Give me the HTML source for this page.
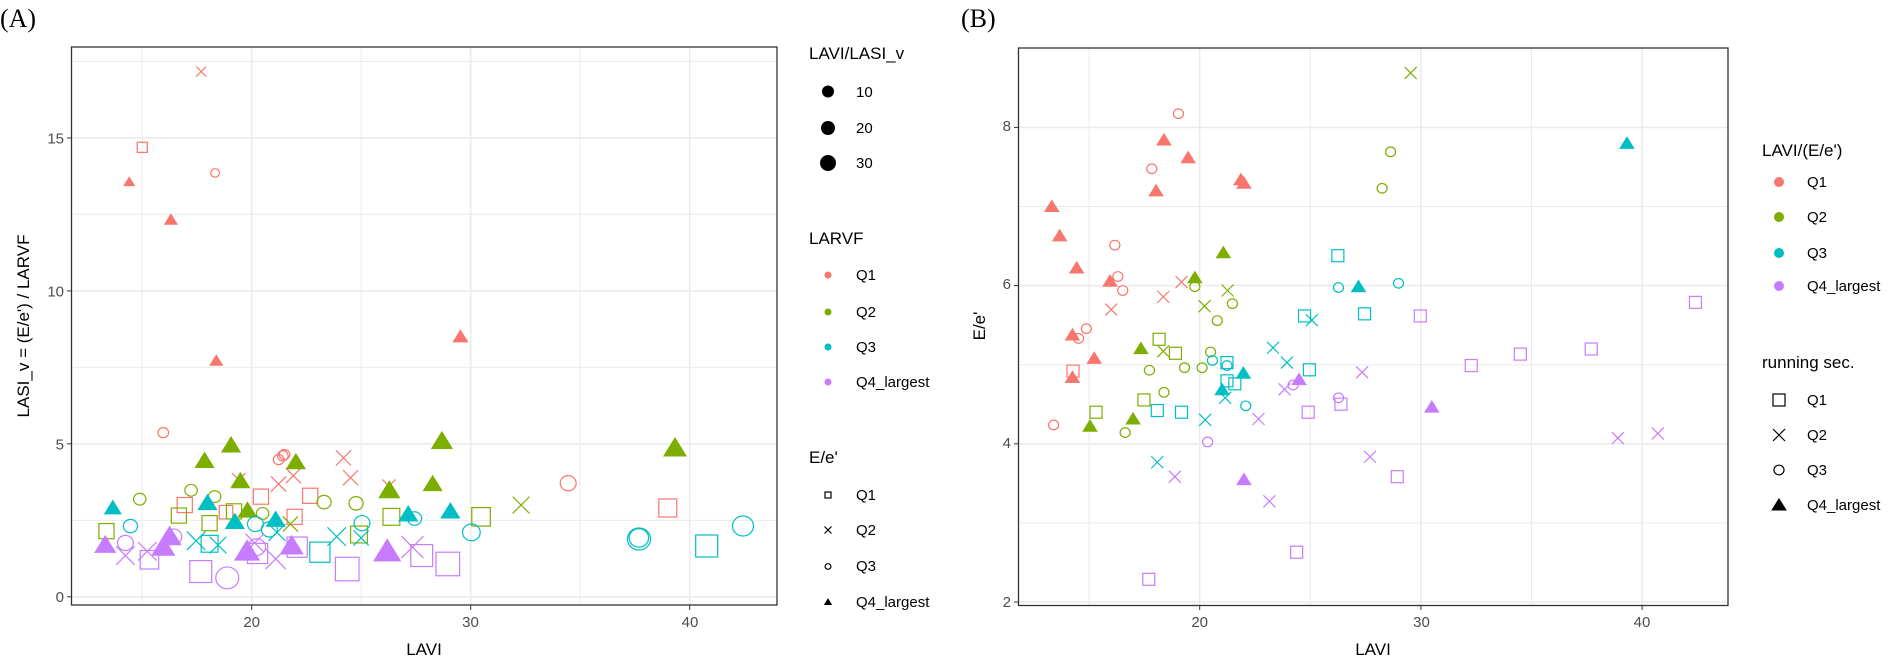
<!DOCTYPE html>
<html><head><meta charset="utf-8"><style>
html,body{margin:0;padding:0;background:#fff;}
svg{display:block;font-family:"Liberation Sans",sans-serif;}
</style></head><body>
<svg id="s" width="1900" height="665" viewBox="0 0 1900 665" xmlns="http://www.w3.org/2000/svg">
<rect width="1900" height="665" fill="#fff"/>
<text x="0" y="27" font-family="Liberation Serif,serif" font-size="26">(A)</text>
<text x="961" y="27" font-family="Liberation Serif,serif" font-size="26">(B)</text>
<g id="gridA" stroke="#ebebeb" fill="none"></g>
<g id="gridB" stroke="#ebebeb" fill="none"></g>
<g id="pts"></g>
<rect x="71.5" y="47" width="705.5" height="558" fill="none" stroke="#333" stroke-width="1.3"/>
<rect x="1018.5" y="48" width="709.5" height="557.5" fill="none" stroke="#333" stroke-width="1.3"/>
<g font-size="15" fill="#4d4d4d" text-anchor="end">
<text x="64" y="602">0</text><text x="64" y="449.5">5</text><text x="64" y="296.5">10</text><text x="64" y="143.5">15</text>
<text x="1011" y="607">2</text><text x="1011" y="448">4</text><text x="1011" y="289">6</text><text x="1011" y="131">8</text>
</g>
<g font-size="15" fill="#4d4d4d" text-anchor="middle">
<text x="251.7" y="627">20</text><text x="470.5" y="627">30</text><text x="690" y="627">40</text>
<text x="1199.7" y="627">20</text><text x="1421.5" y="627">30</text><text x="1642" y="627">40</text>
</g>
<g font-size="17" fill="#000" text-anchor="middle">
<text x="424" y="655">LAVI</text>
<text x="1373" y="655">LAVI</text>
<text transform="translate(29,326) rotate(-90)">LASI_v = (E/e') / LARVF</text>
<text transform="translate(985,326) rotate(-90)">E/e'</text>
</g>
<g font-size="17" fill="#000">
<text x="809" y="59">LAVI/LASI_v</text>
<text x="809" y="244">LARVF</text>
<text x="809" y="463">E/e'</text>
<text x="1762" y="156">LAVI/(E/e')</text>
<text x="1762" y="368">running sec.</text>
</g>
<g font-size="15" fill="#000">
<text x="856" y="97">10</text><text x="856" y="133">20</text><text x="856" y="168">30</text>
<text x="856" y="280">Q1</text><text x="856" y="317">Q2</text><text x="856" y="352">Q3</text><text x="856" y="387">Q4_largest</text>
<text x="856" y="500">Q1</text><text x="856" y="535">Q2</text><text x="856" y="571">Q3</text><text x="856" y="607">Q4_largest</text>
<text x="1807" y="187">Q1</text><text x="1807" y="222">Q2</text><text x="1807" y="258">Q3</text><text x="1807" y="291">Q4_largest</text>
<text x="1807" y="405">Q1</text><text x="1807" y="440">Q2</text><text x="1807" y="475">Q3</text><text x="1807" y="510">Q4_largest</text>
</g>
<g id="leg"></g>
</svg>
<script>
var NS="http://www.w3.org/2000/svg";
function el(p,t,a){var e=document.createElementNS(NS,t);for(var k in a)e.setAttribute(k,a[k]);p.appendChild(e);return e;}
var gA=document.getElementById('gridA'),gB=document.getElementById('gridB');
function yA(v){return 596.8-30.59*v;} function xA(v){return 251.7+(v-20)*21.9;}
function yB(v){return 602-79.1*(v-2);} function xB(v){return 1199.7+(v-20)*22.12;}
[2.5,7.5,12.5,17.5].forEach(function(v){el(gA,'line',{x1:71.5,x2:777,y1:yA(v),y2:yA(v),'stroke-width':1});});
[15,25,35].forEach(function(v){el(gA,'line',{y1:47,y2:605,x1:xA(v),x2:xA(v),'stroke-width':1});});
[0,5,10,15].forEach(function(v){el(gA,'line',{x1:71.5,x2:777,y1:yA(v),y2:yA(v),'stroke-width':1.6});el(gA,'line',{x1:67,x2:71.5,y1:yA(v),y2:yA(v),stroke:'#333'});});
[20,30,40].forEach(function(v){el(gA,'line',{y1:47,y2:605,x1:xA(v),x2:xA(v),'stroke-width':1.6});el(gA,'line',{y1:605,y2:610,x1:xA(v),x2:xA(v),stroke:'#333'});});
[3,5,7].forEach(function(v){el(gB,'line',{x1:1018.5,x2:1728,y1:yB(v),y2:yB(v),'stroke-width':1});});
[15,25,35].forEach(function(v){el(gB,'line',{y1:48,y2:605.5,x1:xB(v),x2:xB(v),'stroke-width':1});});
[2,4,6,8].forEach(function(v){el(gB,'line',{x1:1018.5,x2:1728,y1:yB(v),y2:yB(v),'stroke-width':1.6});el(gB,'line',{x1:1014,x2:1018.5,y1:yB(v),y2:yB(v),stroke:'#333'});});
[20,30,40].forEach(function(v){el(gB,'line',{y1:48,y2:605.5,x1:xB(v),x2:xB(v),'stroke-width':1.6});el(gB,'line',{y1:605.5,y2:610,x1:xB(v),x2:xB(v),stroke:'#333'});});
var C={r:'#F8766D',g:'#7CAE00',c:'#00BFC4',p:'#C77CFF',k:'#000'};
var P=document.getElementById('pts');
function mk(g,sh,x,y,s,col){
 if(sh=='s')el(g,'rect',{x:x-s,y:y-s,width:2*s,height:2*s,fill:'none',stroke:col,'stroke-width':1.2});
 else if(sh=='o')el(g,'ellipse',{cx:x,cy:y,rx:s*1.05,ry:s,fill:'none',stroke:col,'stroke-width':1.2});
 else if(sh=='x'){el(g,'path',{d:'M'+(x-s)+' '+(y-s)+'L'+(x+s)+' '+(y+s)+'M'+(x-s)+' '+(y+s)+'L'+(x+s)+' '+(y-s),stroke:col,'stroke-width':1.2,fill:'none'});}
 else if(sh=='t')el(g,'path',{d:'M'+x+' '+(y-s*1.1)+'L'+(x+s*1.2)+' '+(y+s*0.85)+'L'+(x-s*1.2)+' '+(y+s*0.85)+'Z',fill:col});
 else if(sh=='d')el(g,'circle',{cx:x,cy:y,r:s,fill:col});
}
var f=2.376;
var A=[
['r','x',478,170,12],['r','s',338,350,12],['r','t',307,432,12],['r','o',511,411,10],['r','t',406,522,14],['r','t',514,857,14],['r','t',1094,800,16],['r','o',388,1028,12],
['r','o',662,1092,12],['r','o',672,1083,12],['r','o',676,1080,12],['r','x',816,1088,18],['r','x',833,1135,18],['r','x',662,1150,18],['r','x',697,1130,18],['r','x',567,1140,16],['r','x',924,1155,16],
['r','s',439,1200,18],['r','s',620,1180,18],['r','s',737,1178,18],['r','s',700,1228,18],['r','s',537,1217,16],['r','o',1350,1148,18],
['g','t',486,1095,20],['g','t',549,1058,20],['g','t',571,1143,20],['g','t',703,1098,20],['g','t',588,1213,20],['g','t',925,1165,22],['g','t',1050,1048,22],['g','t',1028,1150,20],
['g','o',332,1186,14],['g','o',454,1165,14],['g','o',510,1180,14],['g','o',624,1220,14],['g','o',770,1193,16],['g','o',846,1196,16],
['g','s',253,1262,18],['g','s',425,1225,18],['g','s',498,1243,18],['g','s',556,1215,18],['g','s',930,1228,20],['g','s',1143,1228,22],['g','s',853,1270,20],
['g','x',1238,1200,20],['g','x',690,1245,18],
['c','t',268,1207,18],['c','t',493,1195,20],['c','t',558,1240,20],['c','t',655,1235,20],['c','t',970,1222,20],['c','t',1070,1215,20],
['c','o',310,1250,16],['c','o',607,1245,18],['c','o',640,1258,18],['c','o',860,1243,18],['c','o',985,1232,16],['c','o',1120,1265,20],['c','o',1518,1278,22],
['c','s',498,1292,20],['c','s',760,1312,24],
['c','x',466,1285,22],['c','x',518,1295,20],['c','x',800,1275,22],['c','x',658,1265,20],['c','x',858,1278,18],
['p','t',250,1295,22],['p','t',388,1300,24],['p','t',403,1275,24],['p','t',587,1310,26],['p','t',693,1297,24],['p','t',920,1310,28],
['p','o',298,1290,18],['p','o',413,1275,18],['p','o',540,1373,26],['p','o',610,1300,20],
['p','s',355,1330,22],['p','s',477,1358,26],['p','s',612,1315,24],['p','s',706,1300,24],['p','s',825,1352,28],['p','s',1002,1320,26],['p','s',1064,1340,28],
['p','x',298,1320,22],['p','x',350,1310,22],['p','x',655,1328,24],['p','x',980,1300,26],['p','x',605,1290,22]];
A.forEach(function(d){mk(P,d[1],d[2]/f,d[3]/f,d[4]/f,C[d[0]]);});
[['r','s',667.8,508,9],['g','t',675,448,10],['c','o',743,526,10],['c','o',639,539,11],['c','s',706.7,546,11]].forEach(function(d){mk(P,d[1],d[2],d[3],d[4],C[d[0]]);});
var B=[
['r','t',[[168,487],[181,556],[209,632],[264,663],[353,330],[340,450],[393,372],[480,424],[485,432],[202,790],[238,845],[202,890]]],
['r','o',[[377,268],[333,398],[272,578],[277,652],[285,685],[225,775],[212,798],[171,1002]]],
['r','x',[[266,730],[352,700],[382,665]]],['r','s',[[203,875]]],
['g','x',[[760,172],[420,722],[458,685],[352,828]]],
['g','o',[[727,358],[713,444],[404,676],[466,716],[441,756],[430,830],[329,873],[387,867],[416,867],[353,925],[289,1020]]],
['g','t',[[451,596],[404,655],[315,822],[302,988],[231,1005]]],
['g','s',[[345,800],[372,833],[320,943],[241,972]]],
['c','t',[[1117,338],[674,676],[484,880],[449,919]]],
['c','s',[[640,603],[585,745],[684,740],[457,855],[593,872],[457,898],[470,905],[342,968],[382,972]]],
['c','o',[[641,678],[740,668],[433,850],[457,862],[488,957]]],
['c','x',[[597,755],[533,820],[556,855],[454,938],[421,990],[342,1090]]],
['p','s',[[1230,713],[776,745],[1058,823],[941,835],[860,862],[645,953],[591,972],[738,1124],[572,1302],[328,1366]]],
['p','x',[[680,878],[552,918],[509,988],[1102,1033],[1168,1022],[693,1077],[371,1124],[527,1182]]],
['p','t',[[576,895],[795,960],[485,1131]]],
['p','o',[[641,938],[566,908],[425,1042]]]];
B.forEach(function(d){d[2].forEach(function(q){var s=d[1]=='t'?6.5:(d[1]=='o'?4.8:6);mk(P,d[1],950+q[0]/1.65,q[1]/2.358,s,C[d[0]]);});});
var L=document.getElementById('leg');
mk(L,'d',828,91.5,6,'#000');mk(L,'d',828,128,7,'#000');mk(L,'d',828,163,8,'#000');
['r','g','c','p'].forEach(function(k,i){mk(L,'d',828,[275,312,347,382][i],3.5,C[k]);mk(L,'d',1779,[182,217,253,286][i],5,C[k]);});
mk(L,'s',828,495,3,'#000');mk(L,'x',828,530,3.5,'#000');mk(L,'o',828,566.5,2.8,'#000');mk(L,'t',828,602,3.5,'#000');
mk(L,'s',1779,400,6,'#000');mk(L,'x',1779,435,6,'#000');mk(L,'o',1779,470,4.8,'#000');mk(L,'t',1779,505,6.5,'#000');
</script>
</body></html>
